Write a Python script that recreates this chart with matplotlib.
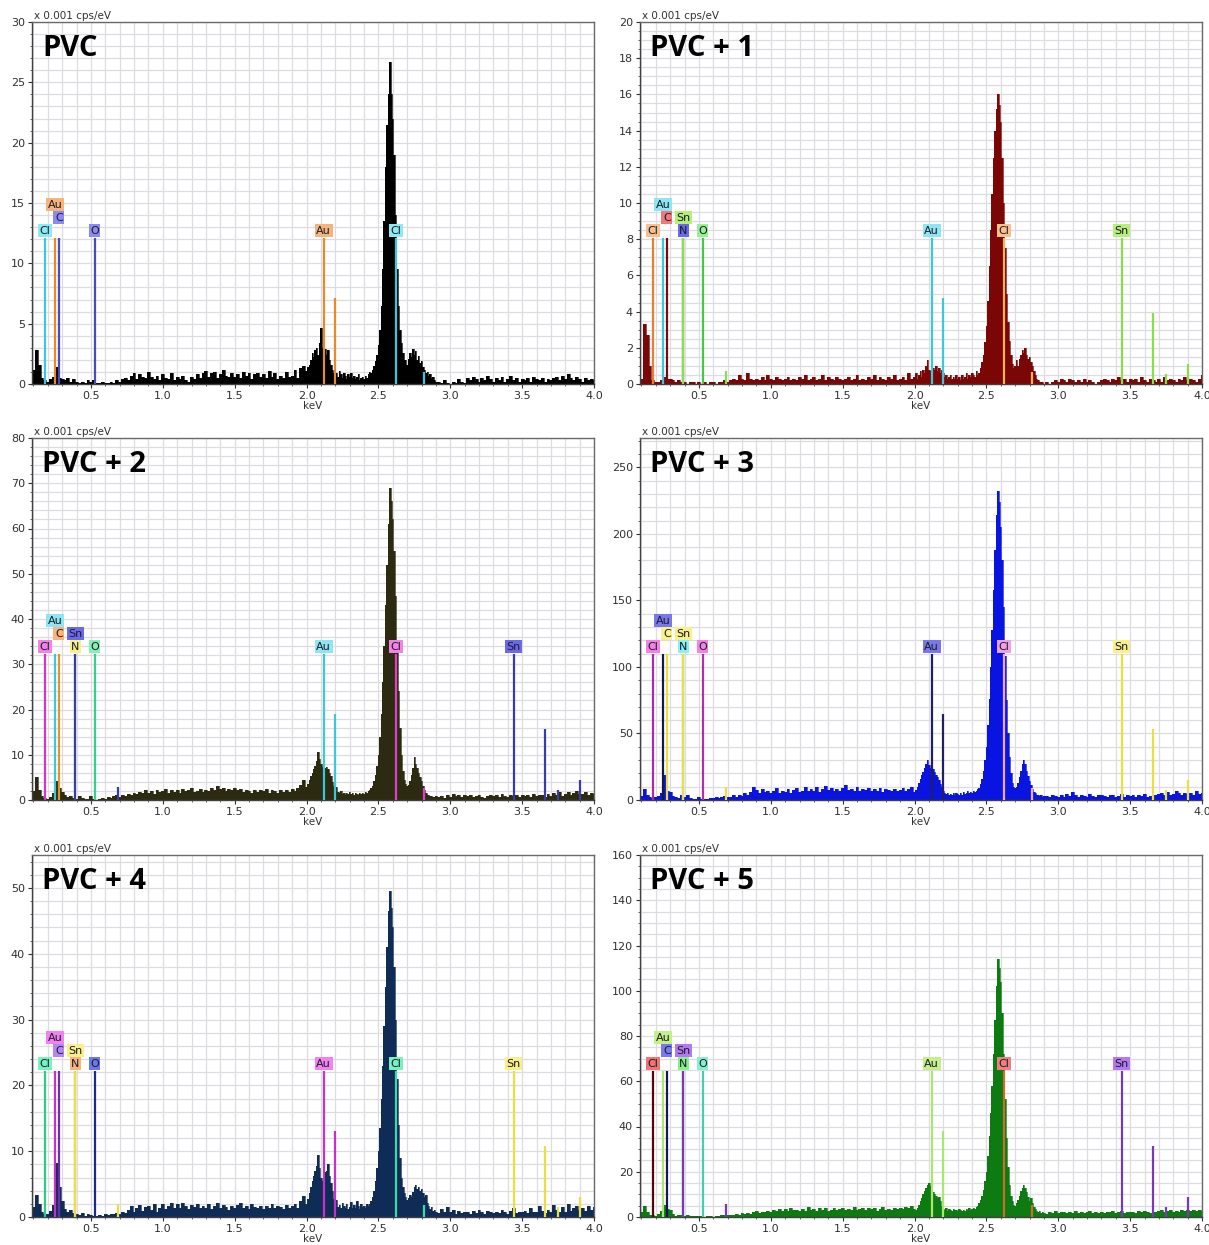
import numpy as np
import matplotlib
matplotlib.use("Agg")
import matplotlib.pyplot as plt
from matplotlib.ticker import MultipleLocator

# ---- panel settings ----
titles = ["PVC", "PVC + 1", "PVC + 2", "PVC + 3", "PVC + 4", "PVC + 5"]
y_max = [30, 20, 80, 272, 55, 160]
y_major = [5, 2, 10, 50, 10, 20]
y_grid = [1, 0.5, 2, 10, 2, 5]
fill_colors = ["#000000", "#7a0606", "#2c2a10", "#0a14e0", "#0f2c56", "#0d7a12"]

# ---- spectra (x 0.001 cps/eV) ----
# low: 0.10-1.98 keV step 0.02 | mid: 2.00-2.90 keV step 0.01 | high: 2.92-4.00 keV step 0.02
low_start, low_step = 0.10, 0.02
mid_start, mid_step = 2.00, 0.01
high_start, high_step = 2.92, 0.02

pvc0_low = [1.2, 2.8, 1.6, 0.5, 0.3, 0.2, 0.4, 0.6, 1.4, 0.5,
            0.4, 0.3, 0.5, 0.2, 0.4, 0.2, 0.1, 0.2, 0.1, 0.3,
            0.2, 0.3, 0.1, 0.1, 0.2, 0.1, 0.1, 0.2, 0.1, 0.3,
            0.2, 0.4, 0.5, 0.3, 0.7, 0.9, 0.4, 0.8, 0.6, 0.5,
            1.0, 0.6, 0.4, 0.7, 0.3, 0.8, 0.5, 0.4, 0.9, 0.3,
            0.6, 0.4, 0.7, 0.3, 0.2, 0.6, 0.4, 0.8, 0.5, 0.9,
            1.1, 0.6, 0.9, 1.0, 0.5, 0.8, 1.2, 0.7, 0.6, 0.9,
            0.6, 0.8, 0.5, 1.0, 0.7, 0.9, 0.4, 0.8, 0.9, 0.6,
            0.8, 0.5, 1.1, 0.6, 0.9, 0.4, 0.7, 0.5, 1.0, 0.6,
            0.7, 1.2, 0.5, 1.3, 1.5]
pvc0_mid = [1.1, 1.4, 1.6, 2.0, 2.6, 2.2, 2.8, 3.0, 2.4, 3.4,
            4.6, 3.0, 2.2, 2.9, 2.4, 2.8, 2.0, 1.6, 1.2, 0.9,
            0.7, 0.9, 0.6, 1.1, 0.8, 0.5, 0.9, 0.7, 0.4, 0.8,
            0.6, 0.9, 0.5, 0.7, 0.4, 0.6, 0.8, 0.3, 0.5, 0.6,
            0.4, 0.7, 0.5, 0.8, 1.0, 0.9, 1.2, 1.5, 1.9, 2.4,
            3.2, 4.5, 6.5, 9.5, 13.5, 18.0, 21.5, 24.0, 26.7, 24.0,
            22.0, 19.0, 14.0, 9.5, 6.5, 4.5, 3.4, 2.6, 2.0, 2.0,
            1.6, 2.1, 2.6, 2.2, 2.9, 2.4, 2.7, 2.0, 2.3, 1.7,
            1.9, 1.4, 1.2, 0.9, 1.0, 0.7, 0.8, 0.5, 0.6, 0.3,
            0.2]
pvc0_high = [0.2, 0.1, 0.3, 0.1, 0.0, 0.2, 0.1, 0.4, 0.2, 0.1,
             0.5, 0.3, 0.6, 0.4, 0.2, 0.5, 0.3, 0.7, 0.4, 0.2,
             0.5, 0.3, 0.6, 0.2, 0.4, 0.7, 0.3, 0.5, 0.2, 0.4,
             0.3, 0.5, 0.2, 0.6, 0.4, 0.3, 0.5, 0.2, 0.4, 0.3,
             0.5, 0.6, 0.3, 0.7, 0.4, 0.8, 0.5, 0.3, 0.6, 0.4,
             0.2, 0.5, 0.3, 0.4, 0.3]

pvc1_low = [0.3, 3.3, 2.7, 1.0, 0.2, 0.1, 0.1, 0.2, 0.4, 0.3,
            0.3, 0.2, 0.1, 0.2, 0.1, 0.1, 0.0, 0.1, 0.1, 0.0,
            0.1, 0.0, 0.1, 0.0, 0.1, 0.1, 0.0, 0.1, 0.1, 0.2,
            0.1, 0.2, 0.3, 0.2, 0.5, 0.3, 0.2, 0.6, 0.3, 0.2,
            0.3, 0.2, 0.4, 0.2, 0.5, 0.3, 0.2, 0.4, 0.3, 0.2,
            0.3, 0.4, 0.2, 0.3, 0.2, 0.4, 0.3, 0.5, 0.2, 0.3,
            0.4, 0.2, 0.3, 0.5, 0.2, 0.4, 0.3, 0.2, 0.4, 0.3,
            0.2, 0.3, 0.4, 0.2, 0.3, 0.5, 0.2, 0.3, 0.2, 0.4,
            0.3, 0.5, 0.2, 0.4, 0.3, 0.2, 0.4, 0.3, 0.5, 0.2,
            0.3, 0.4, 0.2, 0.6, 0.3]
pvc1_mid = [0.4, 0.6, 0.3, 0.5, 0.7, 0.4, 0.8, 0.6, 1.0, 1.3,
            0.8, 0.7, 1.0, 0.9, 0.8, 1.0, 0.7, 0.9, 0.6, 0.8,
            0.6, 0.4, 0.5, 0.3, 0.4, 0.5, 0.3, 0.4, 0.3, 0.5,
            0.3, 0.4, 0.2, 0.5, 0.3, 0.4, 0.6, 0.3, 0.5, 0.4,
            0.6, 0.5, 0.4, 0.7, 0.5, 0.6, 0.9, 1.2, 1.6, 2.3,
            3.2, 4.6, 6.5, 8.5, 10.5, 12.5, 14.0, 15.2, 16.0, 15.4,
            14.5, 12.5, 10.0, 7.5, 5.0, 3.4, 2.4, 1.6, 1.1, 0.9,
            1.0, 1.3, 1.0, 1.4, 1.6, 1.9, 1.7, 2.0, 1.6, 1.4,
            1.5, 1.2, 1.0, 0.7, 0.5, 0.3, 0.2, 0.1, 0.1, 0.1,
            0.0]
pvc1_high = [0.1, 0.0, 0.1, 0.2, 0.1, 0.3, 0.2, 0.1, 0.3, 0.2,
             0.1, 0.2, 0.1, 0.3, 0.1, 0.2, 0.1, 0.0, 0.1, 0.2,
             0.3, 0.2, 0.1, 0.3, 0.2, 0.4, 0.2, 0.3, 0.1, 0.3,
             0.2, 0.3, 0.1, 0.4, 0.2, 0.1, 0.3, 0.2, 0.1, 0.3,
             0.1, 0.4, 0.2, 0.3, 0.2, 0.1, 0.3, 0.2, 0.4, 0.2,
             0.3, 0.2, 0.1, 0.3, 0.5]

pvc2_low = [2.0, 5.0, 2.2, 0.8, 0.5, 0.3, 0.6, 1.5, 4.2, 2.6,
            1.8, 1.0, 0.6, 0.9, 0.5, 0.3, 0.8, 0.4, 0.2, 0.3,
            0.9, 0.2, 0.1, 0.3, 0.4, 0.2, 0.6, 0.5, 0.8, 1.0,
            0.7, 1.2, 0.9, 1.4, 1.1, 1.6, 1.3, 1.8, 1.5, 2.2,
            1.6, 2.0, 1.4, 2.3, 1.7, 1.9, 2.4, 1.5, 2.1, 1.8,
            2.2, 1.6, 2.5, 1.9, 2.1, 2.6, 1.7, 2.0, 2.4, 1.8,
            2.3, 1.9, 2.6, 2.1, 3.0, 2.4, 2.7, 2.0, 2.5, 2.2,
            2.6, 2.1, 2.4, 1.8, 2.2, 2.0, 1.6, 2.3, 1.7, 2.1,
            2.0, 2.4, 1.6, 2.2, 1.9, 1.5, 2.1, 1.8, 2.3, 1.7,
            2.4, 2.0, 2.6, 3.4, 4.5]
pvc2_mid = [2.8, 3.5, 4.5, 5.2, 6.0, 6.8, 7.5, 8.6, 10.7, 9.0,
            8.0, 7.2, 6.5, 7.0, 7.4, 6.8, 6.0, 5.2, 4.0, 3.0,
            2.4, 2.8, 1.8, 1.5, 1.9, 1.4, 1.6, 1.2, 1.5, 1.3,
            1.7, 1.3, 1.5, 1.2, 1.6, 1.4, 1.1, 1.5, 1.3, 1.6,
            1.4, 1.8, 1.5, 1.9, 2.2, 2.6, 3.2, 4.2, 5.5, 7.5,
            10.0, 14.0, 19.0, 26.0, 34.0, 43.0, 52.0, 61.0, 69.0, 66.0,
            62.0, 55.0, 45.0, 34.0, 24.0, 16.0, 10.0, 6.5, 4.5, 3.5,
            3.0, 3.4, 4.2, 5.5, 7.0, 9.5, 8.0, 7.0, 6.0, 5.0,
            4.2, 3.0, 2.2, 1.6, 1.2, 1.0, 0.8, 0.9, 0.7, 0.6,
            0.8]
pvc2_high = [0.6, 0.9, 0.5, 1.1, 0.7, 1.3, 0.8, 1.0, 0.6, 1.2,
             0.8, 1.0, 0.6, 0.9, 1.2, 0.7, 0.5, 0.9, 1.1, 0.8,
             1.0, 0.7, 1.3, 0.9, 0.6, 1.1, 0.8, 1.0, 0.7, 1.2,
             0.9, 1.1, 0.7, 1.3, 0.8, 1.0, 1.2, 0.7, 1.4, 0.9,
             1.6, 1.1, 1.8, 0.9, 1.4, 1.7, 1.2, 1.5, 1.9, 1.3,
             1.4, 1.8, 1.1, 1.5, 1.3]

pvc3_low = [3.0, 8.0, 3.5, 2.0, 1.5, 2.5, 3.0, 5.5, 19.0, 6.5,
            6.0, 3.0, 2.0, 1.5, 3.5, 2.0, 4.0, 1.5, 1.0, 1.0,
            2.0, 0.8, 0.5, 1.0, 1.5, 1.2, 2.0, 1.5, 2.5, 3.0,
            2.0, 2.5, 3.5, 2.5, 4.0, 3.0, 5.5, 4.0, 6.0, 10.0,
            7.5, 5.0, 8.0, 6.0, 7.0, 5.0, 6.5, 9.0, 5.5, 7.0,
            6.0, 8.5, 5.5, 7.5, 9.0, 6.0, 7.0, 10.0, 6.5, 8.0,
            7.0, 9.5, 6.0, 8.0, 10.5, 7.5, 9.0, 6.5, 8.5, 7.0,
            9.0, 11.0, 7.5, 8.5, 7.0, 9.5, 6.5, 8.0, 7.5, 9.0,
            6.5, 8.5, 7.0, 9.0, 6.0, 8.0, 7.5, 6.5, 8.5, 7.0,
            7.5, 9.0, 6.5, 8.0, 9.5]
pvc3_mid = [6.0, 7.5, 10.0, 13.0, 16.0, 19.0, 21.0, 24.0, 27.0, 30.0,
            26.0, 24.0, 22.0, 23.0, 21.0, 19.0, 17.0, 15.0, 12.0, 10.0,
            7.0, 5.5, 4.5, 5.0, 4.0, 4.5, 3.5, 5.0, 4.0, 5.5,
            4.5, 3.5, 5.0, 4.0, 6.0, 4.5, 5.5, 7.0, 5.0, 6.0,
            5.5, 7.0, 6.0, 6.5, 8.0, 9.0, 12.0, 16.0, 22.0, 30.0,
            40.0, 56.0, 76.0, 100.0, 128.0, 158.0, 188.0, 214.0, 232.0, 224.0,
            205.0, 180.0, 145.0, 108.0, 75.0, 50.0, 32.0, 20.0, 13.0, 10.0,
            9.0, 10.0, 13.0, 17.0, 22.0, 27.0, 30.0, 27.0, 22.0, 18.0,
            14.0, 11.0, 8.0, 6.0, 5.0, 4.0, 3.5, 3.0, 4.0, 2.5,
            3.0]
pvc3_high = [3.0, 2.5, 4.0, 3.0, 2.0, 3.5, 2.5, 4.5, 3.0, 6.0,
             3.5, 2.5, 4.0, 3.0, 2.5, 4.5, 3.0, 2.0, 3.5, 4.0,
             3.0, 2.5, 4.0, 3.5, 2.5, 3.0, 4.5, 2.5, 3.5, 3.0,
             4.0, 2.5, 3.5, 3.0, 4.5, 2.5, 3.0, 4.0, 3.5, 4.5,
             5.0, 3.5, 6.0, 4.0, 4.5, 6.5, 5.0, 4.0, 5.5, 4.5,
             5.0, 4.0, 6.5, 4.5, 5.5]

pvc4_low = [1.5, 3.3, 2.0, 0.8, 0.5, 0.4, 0.9, 1.8, 8.2, 4.5,
            2.5, 1.2, 0.7, 1.0, 0.6, 0.4, 0.3, 0.6, 0.2, 0.4,
            0.3, 0.2, 0.1, 0.3, 0.2, 0.4, 0.3, 0.5, 0.4, 0.6,
            0.5, 0.8, 0.6, 1.0, 1.6, 0.7, 1.3, 1.8, 0.9, 1.5,
            1.7, 1.1, 1.9, 0.8, 1.4, 2.0, 1.2, 1.6, 2.2, 1.3,
            1.9, 1.4, 2.1, 1.7, 1.2, 1.8, 1.5, 2.0, 1.3, 1.7,
            1.4, 1.9, 1.2, 1.6, 2.1, 1.3, 1.8, 1.5, 1.1, 1.6,
            1.3, 1.8, 2.2, 1.4, 1.7, 1.2, 1.9, 1.5, 1.3, 1.7,
            1.2, 1.6, 1.4, 1.9, 1.3, 1.7, 1.5, 1.2, 1.8, 1.4,
            1.6, 2.0, 1.4, 2.5, 3.2]
pvc4_mid = [2.0, 2.8, 3.6, 4.5, 5.4, 6.2, 7.0, 7.8, 9.4, 7.5,
            6.0, 5.4, 5.6, 6.8, 7.0, 8.0, 6.2, 5.2, 4.0, 2.8,
            2.0, 2.6, 1.5, 1.8, 1.3, 2.2, 1.6, 1.4, 1.9, 1.2,
            1.5, 2.3, 1.3, 1.8, 1.4, 2.5, 1.6, 1.2, 1.9, 1.5,
            1.7, 1.3, 1.9, 1.6, 2.0, 2.4, 3.0, 4.0, 5.5, 7.5,
            10.0, 13.5, 18.0, 23.0, 29.0, 35.0, 41.0, 46.5, 49.5, 47.0,
            44.0, 38.0, 30.0, 21.0, 14.0, 9.0, 6.0, 4.5, 3.6, 3.0,
            2.6, 2.9, 3.3, 3.0, 3.8, 4.6, 4.9, 4.2, 4.6, 3.9,
            4.3, 3.6, 3.0, 3.4, 2.2, 1.6, 1.2, 1.5, 0.9, 1.1,
            0.8]
pvc4_high = [0.6, 1.2, 0.7, 1.5, 0.8, 1.0, 0.5, 0.9, 0.6, 0.8,
             0.7, 0.5, 0.9, 0.6, 1.0, 0.8, 0.5, 0.9, 0.7, 0.6,
             0.8, 0.6, 1.1, 0.7, 0.5, 0.9, 1.3, 0.6, 0.8, 0.7,
             0.9, 0.6, 1.4, 0.8, 0.7, 1.6, 0.9, 0.6, 1.1, 0.8,
             1.8, 1.0, 0.8, 1.5, 0.7, 1.9, 0.9, 1.3, 1.6, 1.0,
             1.4, 0.9, 1.7, 1.1, 1.5]

pvc5_low = [2.0, 4.9, 2.0, 1.0, 0.8, 0.5, 1.2, 2.5, 5.3, 3.5,
            3.0, 1.2, 0.6, 1.0, 0.7, 0.4, 0.9, 0.5, 0.3, 0.6,
            0.4, 0.3, 0.2, 0.5, 0.3, 0.2, 0.6, 0.4, 0.7, 0.8,
            0.9, 1.1, 0.8, 1.4, 1.0, 1.6, 1.2, 1.9, 1.5, 2.2,
            2.6, 1.9, 2.4, 2.0, 2.8, 2.2, 3.0, 2.5, 3.4, 2.7,
            3.4, 2.7, 3.9, 2.9, 3.3, 2.6, 3.7, 2.8, 4.2, 3.0,
            3.6, 2.7, 3.8, 3.1, 4.1, 2.8, 3.3, 3.9, 3.0, 3.5,
            4.0, 2.9, 3.7, 3.2, 4.3, 3.1, 3.6, 3.8, 3.0, 4.1,
            3.4, 3.9, 2.8, 3.6, 4.2, 3.1, 3.7, 3.3, 4.0, 3.5,
            3.8, 3.4, 4.3, 3.9, 4.8]
pvc5_mid = [3.5, 3.0, 4.0, 5.5, 7.0, 8.5, 10.0, 11.5, 13.0, 14.0,
            14.9, 13.5, 12.0, 11.0, 10.0, 9.5, 8.5, 9.0, 7.0, 5.0,
            3.5, 3.0, 3.8, 2.8, 3.5, 3.0, 2.6, 3.4, 2.9, 3.2,
            2.7, 3.5, 3.0, 2.5, 3.3, 2.8, 3.6, 3.0, 3.8, 3.2,
            3.5, 4.0, 3.4, 4.5, 5.0, 6.0, 7.5, 9.5, 12.0, 16.0,
            20.0, 27.0, 36.0, 46.0, 58.0, 72.0, 87.0, 102.0, 114.0, 110.0,
            104.0, 90.0, 72.0, 52.0, 35.0, 22.0, 14.0, 9.5, 7.0, 5.5,
            5.0, 6.0, 7.5, 9.5, 11.5, 13.0, 14.2, 13.0, 11.0, 9.0,
            7.0, 8.5, 6.0, 4.5, 3.5, 2.8, 2.2, 2.5, 1.8, 2.0,
            1.6]
pvc5_high = [1.5, 2.2, 1.8, 2.6, 1.6, 2.0, 2.4, 1.7, 2.3, 1.9,
             2.5, 1.8, 2.2, 1.6, 2.0, 2.7, 1.9, 2.3, 1.7, 2.1,
             1.8, 2.3, 2.0, 2.6, 1.7, 2.2, 2.8, 1.9, 2.4, 2.0,
             2.3, 1.9, 2.5, 2.0, 2.6, 2.2, 1.8, 2.4, 2.1, 2.7,
             2.9, 2.2, 2.6, 3.1, 2.4, 2.8, 2.2, 3.3, 2.6, 2.9,
             2.5, 3.0, 2.7, 3.2, 2.8]

spectra = [
    (pvc0_low, pvc0_mid, pvc0_high),
    (pvc1_low, pvc1_mid, pvc1_high),
    (pvc2_low, pvc2_mid, pvc2_high),
    (pvc3_low, pvc3_mid, pvc3_high),
    (pvc4_low, pvc4_mid, pvc4_high),
    (pvc5_low, pvc5_mid, pvc5_high),
]

# ---- element markers: (label, keV, label row, box colour, line colour) ----
E_CL_L, E_AU_N, E_C, E_N, E_O = 0.18, 0.25, 0.277, 0.392, 0.525
E_AU_M, E_CL_K, E_SN_L = 2.12, 2.62, 3.44

markers = [
    [("Cl", E_CL_L, 0, "#8eeaf2", "#3cc8dc"), ("Au", E_AU_N, 2, "#f5b47c", "#e8892a"),
     ("C", E_C, 1, "#8a8af0", "#4a4ab8"), ("O", E_O, 0, "#8a8af0", "#4a4ab8"),
     ("Au", E_AU_M, 0, "#f5b47c", "#e8892a"), ("Cl", E_CL_K, 0, "#8eeaf2", "#3cc8dc")],
    [("Cl", E_CL_L, 0, "#f8c08c", "#e0803c"), ("Au", E_AU_N, 2, "#8ee6f2", "#3cc8dc"),
     ("C", E_C, 1, "#f07878", "#7a0a0a"), ("N", E_N, 0, "#6a6ae8", "#4040b0"),
     ("Sn", E_N, 1, "#b4f07a", "#8ade4a"), ("O", E_O, 0, "#96f096", "#46c846"),
     ("Au", E_AU_M, 0, "#8ee6f2", "#3cc8dc"), ("Cl", E_CL_K, 0, "#f8c08c", "#f0b060"),
     ("Sn", E_SN_L, 0, "#b4f07a", "#8ade4a")],
    [("Cl", E_CL_L, 0, "#f282e6", "#d038c0"), ("Au", E_AU_N, 2, "#8ee6f2", "#3cc8dc"),
     ("C", E_C, 1, "#f8b47a", "#e8942a"), ("N", E_N, 0, "#f8f08a", "#d8d040"),
     ("Sn", E_N, 1, "#6a6ae8", "#3a3aa8"), ("O", E_O, 0, "#84f0b4", "#34d090"),
     ("Au", E_AU_M, 0, "#8ee6f2", "#3cc8dc"), ("Cl", E_CL_K, 0, "#f282e6", "#e040c8"),
     ("Sn", E_SN_L, 0, "#6a6ae8", "#3a3aa8")],
    [("Cl", E_CL_L, 0, "#f282e6", "#a82ca8"), ("Au", E_AU_N, 2, "#7878ea", "#181848"),
     ("C", E_C, 1, "#f8f08a", "#e8e040"), ("N", E_N, 0, "#8af0f0", "#40d0d0"),
     ("Sn", E_N, 1, "#f8f08a", "#e8e040"), ("O", E_O, 0, "#f282e6", "#b030a8"),
     ("Au", E_AU_M, 0, "#7878ea", "#202060"), ("Cl", E_CL_K, 0, "#f2a0e6", "#f0a8ec"),
     ("Sn", E_SN_L, 0, "#f8f08a", "#e8e040")],
    [("Cl", E_CL_L, 0, "#78f0c0", "#30c888"), ("Au", E_AU_N, 2, "#f282f0", "#c830c8"),
     ("C", E_C, 1, "#b488f0", "#6a30a8"), ("N", E_N, 0, "#f8b47a", "#e8942a"),
     ("Sn", E_N, 1, "#f8f08a", "#e8e040"), ("O", E_O, 0, "#6a78ea", "#202888"),
     ("Au", E_AU_M, 0, "#f282f0", "#c830c8"), ("Cl", E_CL_K, 0, "#78f0c0", "#40d8a8"),
     ("Sn", E_SN_L, 0, "#f8f08a", "#e8e040")],
    [("Cl", E_CL_L, 0, "#f07474", "#500808"), ("Au", E_AU_N, 2, "#c4f08a", "#a8e870"),
     ("C", E_C, 1, "#7878f0", "#141460"), ("N", E_N, 0, "#88f088", "#40c040"),
     ("Sn", E_N, 1, "#b478f0", "#7838b8"), ("O", E_O, 0, "#84f0d0", "#40d0b0"),
     ("Au", E_AU_M, 0, "#c4f08a", "#a8e870"), ("Cl", E_CL_K, 0, "#f08080", "#c87028"),
     ("Sn", E_SN_L, 0, "#b478f0", "#7838b8")],
]

# secondary lines without label: (keV, height relative to labelled lines, colour)
extra_lines = [
    [(2.20, 0.59, "#e8892a"), (2.815, 0.08, "#3cc8dc")],
    [(2.20, 0.59, "#3cc8dc"), (2.815, 0.08, "#f0b060"), (0.69, 0.09, "#8ade4a"),
     (3.66, 0.49, "#8ade4a"), (3.75, 0.07, "#8ade4a"), (3.90, 0.14, "#8ade4a")],
    [(2.20, 0.59, "#3cc8dc"), (2.815, 0.08, "#e040c8"), (0.69, 0.09, "#3a3aa8"),
     (3.66, 0.49, "#3a3aa8"), (3.75, 0.07, "#3a3aa8"), (3.90, 0.14, "#3a3aa8")],
    [(2.20, 0.59, "#202060"), (2.815, 0.08, "#f0a8ec"), (0.69, 0.09, "#e8e040"),
     (3.66, 0.49, "#e8e040"), (3.75, 0.07, "#e8e040"), (3.90, 0.14, "#e8e040")],
    [(2.20, 0.59, "#c830c8"), (2.815, 0.08, "#40d8a8"), (0.69, 0.09, "#e8e040"),
     (3.66, 0.49, "#e8e040"), (3.75, 0.07, "#e8e040"), (3.90, 0.14, "#e8e040")],
    [(2.20, 0.59, "#a8e870"), (2.815, 0.08, "#c87028"), (0.69, 0.09, "#7838b8"),
     (3.66, 0.49, "#7838b8"), (3.75, 0.07, "#7838b8"), (3.90, 0.14, "#7838b8")],
]

LINE_TOP = 0.402          # axes fraction where labelled lines end
ROW_Y = [0.423, 0.459, 0.495]

plt.rcParams["font.family"] = ["DejaVu Sans"]
fig = plt.figure(figsize=(12.09, 12.45), dpi=100)

col_x = [32 / 1209, 640 / 1209]
row_y = [1 - 384 / 1245, 1 - 800 / 1245, 1 - 1217 / 1245]
w, h = 562 / 1209, 362 / 1245

for i in range(6):
    ax = fig.add_axes([col_x[i % 2], row_y[i // 2], w, h])
    low, mid, high = spectra[i]
    e_low = low_start + low_step * np.arange(len(low))
    e_mid = mid_start + mid_step * np.arange(len(mid))
    e_high = high_start + high_step * np.arange(len(high))
    e = np.concatenate([e_low, e_mid, e_high])
    v = np.concatenate([low, mid, high])
    ax.fill_between(e, v, step="mid", color=fill_colors[i], lw=0, zorder=2)
    ax.step(e, v, where="mid", color=fill_colors[i], lw=0.5, zorder=2)

    ymax = y_max[i]
    for ex, rel, col in extra_lines[i]:
        ax.vlines(ex, 0, rel * LINE_TOP * ymax, color=col, lw=1.6, zorder=3)
    for lab, ex, row, boxc, linec in markers[i]:
        ax.vlines(ex, 0, LINE_TOP * ymax, color=linec, lw=1.6, zorder=3)
        ax.text(ex, ROW_Y[row], lab, transform=ax.get_xaxis_transform(),
                ha="center", va="center", fontsize=8, color="#1a1a2a", zorder=5,
                bbox=dict(boxstyle="square,pad=0.14", fc=boxc, ec="none"))

    ax.set_xlim(0.09, 4.0)
    ax.set_ylim(0, ymax)
    ax.xaxis.set_major_locator(MultipleLocator(0.5))
    ax.xaxis.set_minor_locator(MultipleLocator(0.1))
    ax.yaxis.set_major_locator(MultipleLocator(y_major[i]))
    ax.yaxis.set_minor_locator(MultipleLocator(y_grid[i]))
    ax.xaxis.set_major_formatter(plt.FuncFormatter(lambda x, p: f"{x:.1f}"))
    ax.grid(which="both", color="#dcdce2", lw=0.9, zorder=0)
    ax.set_axisbelow(True)
    ax.tick_params(which="major", length=3, width=0.8, labelsize=8, colors="#303030", pad=2)
    ax.tick_params(which="minor", length=1.5, width=0.6, colors="#505050")
    for s in ax.spines.values():
        s.set_color("#6a6a6a")
        s.set_linewidth(1.0)
    ax.spines["left"].set_color("#404040")
    ax.spines["bottom"].set_color("#404040")
    ax.set_xlabel("keV", fontsize=7.5, labelpad=0, color="#303030")
    ax.text(0.003, 1.004, "x 0.001 cps/eV", transform=ax.transAxes, fontsize=7.5,
            ha="left", va="bottom", color="#303030")
    ax.text(0.018, 0.968, titles[i], transform=ax.transAxes, fontsize=21,
            fontweight="bold", family="Open Sans", ha="left", va="top", zorder=6)

fig.savefig("out.png", dpi=100)
